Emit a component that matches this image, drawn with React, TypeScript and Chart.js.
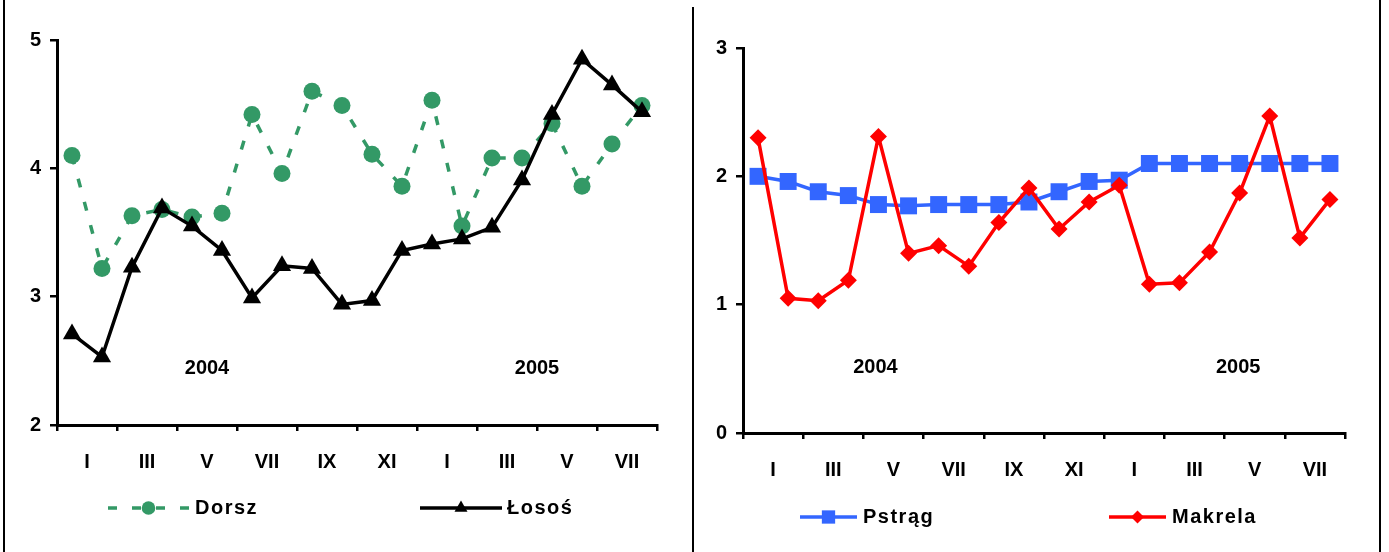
import React, { useEffect, useRef } from 'react';
import { Chart, registerables } from 'chart.js';

Chart.register(...registerables);

// ---- data ----
const MONTH_TICKS = ['I', 'III', 'V', 'VII', 'IX', 'XI', 'I', 'III', 'V', 'VII'];
const YEAR_LABELS = ['2004', '2005'];
const LEFT_NAMES = ['Dorsz', 'Łosoś'];
const RIGHT_NAMES = ['Pstrąg', 'Makrela'];
const DORSZ = [4.10, 3.22, 3.63, 3.68, 3.62, 3.65, 4.42, 3.96, 4.60, 4.49, 4.11, 3.86, 4.53, 3.55, 4.08, 4.08, 4.35, 3.86, 4.19, 4.49];
const LOSOS = [2.71, 2.53, 3.23, 3.69, 3.55, 3.36, 2.99, 3.24, 3.22, 2.94, 2.97, 3.36, 3.41, 3.45, 3.54, 3.91, 4.42, 4.85, 4.65, 4.44];
const PSTRAG = [2.00, 1.96, 1.88, 1.85, 1.78, 1.77, 1.78, 1.78, 1.78, 1.80, 1.88, 1.96, 1.97, 2.10, 2.10, 2.10, 2.10, 2.10, 2.10, 2.10];
const MAKRELA = [2.30, 1.05, 1.03, 1.19, 2.31, 1.40, 1.46, 1.30, 1.64, 1.91, 1.59, 1.80, 1.93, 1.16, 1.17, 1.41, 1.87, 2.47, 1.52, 1.82];
const LEFT_Y = [2, 5];
const RIGHT_Y = [0, 3];

const FONT = '"Liberation Sans", Arial, Helvetica, sans-serif';
const N = DORSZ.length;

function drawMarker(ctx: CanvasRenderingContext2D, style: string, x: number, y: number, r: number, color: string) {
  ctx.save();
  ctx.fillStyle = color;
  ctx.beginPath();
  if (style === 'circle') {
    ctx.arc(x, y, r, 0, Math.PI * 2);
  } else if (style === 'triangle') {
    const a = (2 * Math.PI) / 3;
    ctx.moveTo(x, y - r);
    ctx.lineTo(x + Math.sin(a) * r, y - Math.cos(a) * r);
    ctx.lineTo(x - Math.sin(a) * r, y - Math.cos(a) * r);
  } else if (style === 'rect') {
    const s = r * Math.SQRT1_2;
    ctx.rect(x - s, y - s, 2 * s, 2 * s);
  } else {
    ctx.moveTo(x - r, y);
    ctx.lineTo(x, y - r);
    ctx.lineTo(x + r, y);
    ctx.lineTo(x, y + r);
  }
  ctx.closePath();
  ctx.fill();
  ctx.restore();
}

type Series = { name: string; data: number[]; color: string; dash: number[]; style: string; r: number; lr: number; order: number };
type LegendPos = { x0: number; x1: number; tx: number; y: number };
type YearPos = { x: number; y: number };

function makeOverlay(series: Series[], legend: LegendPos[], years: YearPos[]) {
  return {
    id: 'overlay',
    afterDraw(chart: any) {
      const ctx: CanvasRenderingContext2D = chart.ctx;
      const xs = chart.scales.x;
      const ys = chart.scales.y;
      ctx.save();
      ctx.fillStyle = '#000';
      ctx.font = `bold 20px ${FONT}`;
      ctx.textAlign = 'center';
      ctx.textBaseline = 'middle';
      years.forEach((p, i) => ctx.fillText(YEAR_LABELS[i], xs.getPixelForValue(p.x), ys.getPixelForValue(p.y)));
      series.forEach((s, i) => {
        const p = legend[i];
        ctx.save();
        ctx.strokeStyle = s.color;
        ctx.lineWidth = 3.5;
        ctx.setLineDash(s.dash);
        ctx.beginPath();
        ctx.moveTo(p.x0, p.y);
        ctx.lineTo(p.x1, p.y);
        ctx.stroke();
        ctx.setLineDash([]);
        drawMarker(ctx, s.style, (p.x0 + p.x1) / 2, p.y, s.lr, s.color);
        ctx.fillStyle = '#000';
        ctx.textAlign = 'left';
        ctx.textBaseline = 'middle';
        ctx.font = `bold 20px ${FONT}`;
        (ctx as any).letterSpacing = '1.5px';
        ctx.fillText(s.name, p.tx, p.y);
        ctx.restore();
      });
      ctx.restore();
    },
  };
}

type Area = { left: number; top: number; right: number; bottom: number };

function buildConfig(width: number, height: number, area: Area, yr: number[], series: Series[], legend: LegendPos[], years: YearPos[]): any {
  const tickValues = Array.from({ length: N + 1 }, (_, i) => i - 0.5);
  return {
    type: 'line',
    data: {
      datasets: series.map((s) => ({
        label: s.name,
        data: s.data.map((v, i) => ({ x: i, y: v })),
        borderColor: s.color,
        backgroundColor: s.color,
        borderWidth: 3.5,
        borderDash: s.dash,
        pointStyle: s.style,
        pointRadius: s.r,
        pointBackgroundColor: s.color,
        pointBorderColor: s.color,
        pointBorderWidth: 0,
        tension: 0,
        fill: false,
        order: s.order,
        clip: false,
      })),
    },
    options: {
      responsive: false,
      animation: false,
      events: [],
      layout: { padding: { left: 0, top: area.top, right: width - area.right, bottom: 0 } },
      plugins: { legend: { display: false }, tooltip: { enabled: false } },
      scales: {
        x: {
          type: 'linear',
          min: -0.5,
          max: N - 0.5,
          afterBuildTicks: (s: any) => {
            s.ticks = tickValues.map((v) => ({ value: v }));
          },
          afterFit: (s: any) => {
            s.height = height - area.bottom;
          },
          ticks: {
            autoSkip: false,
            maxRotation: 0,
            minRotation: 0,
            padding: 19,
            color: '#000',
            font: { family: FONT, size: 20, weight: 'bold' },
            callback: (v: number) => {
              const k = Math.round(v + 0.5);
              return k % 2 === 1 ? MONTH_TICKS[(k - 1) / 2] : '';
            },
          },
          grid: {
            drawOnChartArea: false,
            drawTicks: true,
            tickLength: 6,
            lineWidth: 2.5,
            color: (c: any) => (c.tick && Math.round(c.tick.value + 0.5) % 2 === 0 ? '#000' : 'rgba(0,0,0,0)'),
          },
          border: { display: true, color: '#000', width: 3 },
        },
        y: {
          min: yr[0],
          max: yr[1],
          afterFit: (s: any) => {
            s.width = area.left;
          },
          ticks: {
            stepSize: 1,
            padding: 9,
            color: '#000',
            font: { family: FONT, size: 20, weight: 'bold' },
          },
          grid: { drawOnChartArea: false, drawTicks: true, tickLength: 7, lineWidth: 2.5, color: '#000' },
          border: { display: true, color: '#000', width: 3 },
        },
      },
    },
    plugins: [makeOverlay(series, legend, years)],
  };
}

function LineChart(props: { width: number; height: number; left: number; make: () => any }) {
  const ref = useRef<HTMLCanvasElement>(null);
  useEffect(() => {
    const chart = new Chart(ref.current as HTMLCanvasElement, props.make());
    return () => chart.destroy();
  }, []);
  return (
    <canvas
      ref={ref}
      width={props.width}
      height={props.height}
      style={{ position: 'absolute', left: props.left, top: 0, width: props.width, height: props.height, display: 'block' }}
    />
  );
}

const LEFT_SERIES: Series[] = [
  { name: LEFT_NAMES[0], data: DORSZ, color: '#339966', dash: [9, 15], style: 'circle', r: 8.5, lr: 6.8, order: 2 },
  { name: LEFT_NAMES[1], data: LOSOS, color: '#000000', dash: [], style: 'triangle', r: 10.5, lr: 7.5, order: 1 },
];
const RIGHT_SERIES: Series[] = [
  { name: RIGHT_NAMES[0], data: PSTRAG, color: '#3366FF', dash: [], style: 'rect', r: 12, lr: 9.4, order: 2 },
  { name: RIGHT_NAMES[1], data: MAKRELA, color: '#FF0000', dash: [], style: 'rectRot', r: 8.5, lr: 6.5, order: 1 },
];

export default function App() {
  const H = 552;
  const leftMake = () =>
    buildConfig(693, H, { left: 57, top: 40, right: 657, bottom: 425 }, LEFT_Y, LEFT_SERIES,
      [{ x0: 108, x1: 189, tx: 195, y: 508 }, { x0: 420, x1: 502, tx: 507, y: 508 }],
      [{ x: 4.5, y: 2.44 }, { x: 15.5, y: 2.44 }]);
  const rightMake = () =>
    buildConfig(696, H, { left: 50, top: 48, right: 652, bottom: 433 }, RIGHT_Y, RIGHT_SERIES,
      [{ x0: 107, x1: 164, tx: 170, y: 517 }, { x0: 416, x1: 473, tx: 479, y: 517 }],
      [{ x: 3.9, y: 0.51 }, { x: 15.95, y: 0.51 }]);
  return (
    <div style={{ position: 'absolute', left: 0, top: 0, width: 1389, height: H, background: '#fff', overflow: 'hidden' }}>
      <LineChart width={693} height={H} left={0} make={leftMake} />
      <LineChart width={696} height={H} left={693} make={rightMake} />
      <div style={{ position: 'absolute', left: 3, top: 0, width: 2, height: H, background: '#000' }} />
      <div style={{ position: 'absolute', left: 692, top: 7, width: 2, height: H - 7, background: '#000' }} />
      <div style={{ position: 'absolute', left: 1379, top: 0, width: 2, height: H, background: '#000' }} />
    </div>
  );
}
